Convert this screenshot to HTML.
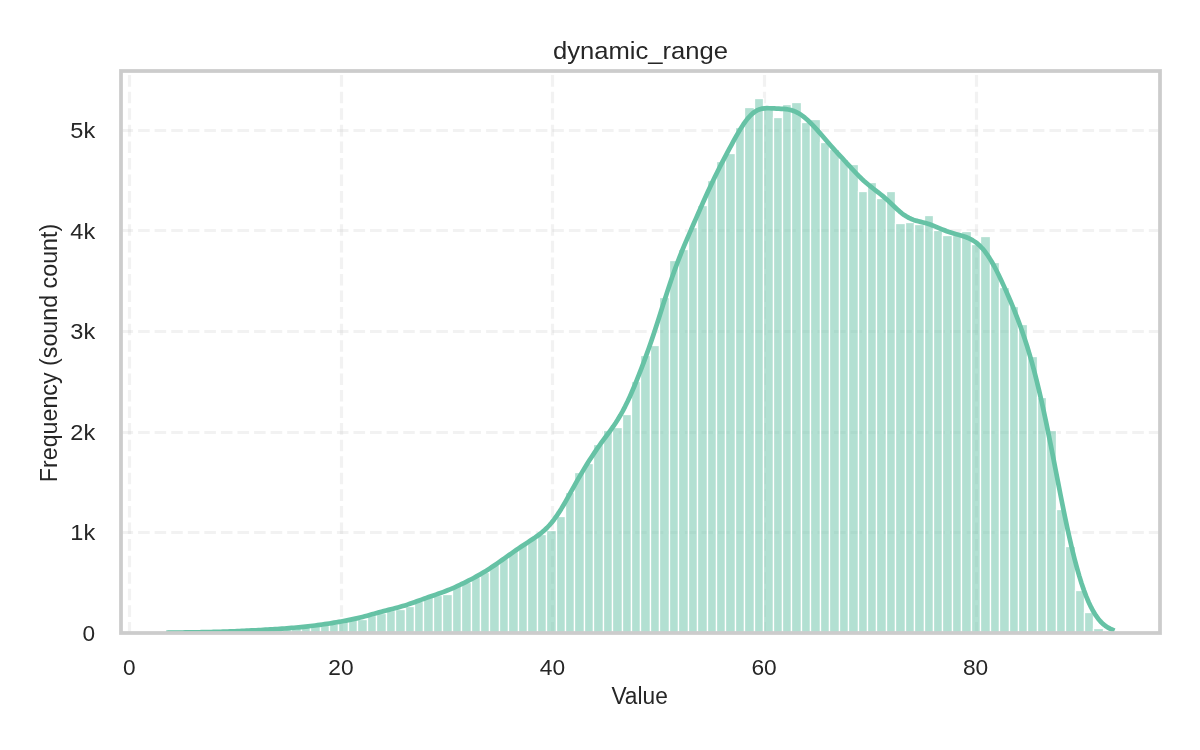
<!DOCTYPE html>
<html><head><meta charset="utf-8"><style>
html,body{margin:0;padding:0;background:#fff;}
svg{display:block;will-change:transform;}
text{font-family:"Liberation Sans", sans-serif;fill:#262626;}
</style></head><body>
<svg width="1200" height="750" viewBox="0 0 1200 750">
<defs><clipPath id="ax"><rect x="121.0" y="71.0" width="1039.0" height="562.0"/></clipPath></defs>
<rect width="1200" height="750" fill="#fff"/>
<g clip-path="url(#ax)">
<g stroke="#cccccc" stroke-opacity="0.26" stroke-width="3.126" stroke-dasharray="11.57 5.0" fill="none">
<line x1="129.5" y1="633.5" x2="129.5" y2="71.5"/>
<line x1="341.5" y1="633.5" x2="341.5" y2="71.5"/>
<line x1="552.5" y1="633.5" x2="552.5" y2="71.5"/>
<line x1="764.5" y1="633.5" x2="764.5" y2="71.5"/>
<line x1="976.5" y1="633.5" x2="976.5" y2="71.5"/>
<line x1="121.5" y1="633.5" x2="1159.5" y2="633.5"/>
<line x1="121.5" y1="532.5" x2="1159.5" y2="532.5"/>
<line x1="121.5" y1="432.5" x2="1159.5" y2="432.5"/>
<line x1="121.5" y1="331.5" x2="1159.5" y2="331.5"/>
<line x1="121.5" y1="230.5" x2="1159.5" y2="230.5"/>
<line x1="121.5" y1="130.5" x2="1159.5" y2="130.5"/>
</g>
<g fill="#66c2a5" fill-opacity="0.5" stroke="#fff" stroke-width="1.3">
<rect x="169.5" y="633.5" width="9.0" height="0.0"/>
<rect x="178.5" y="632.5" width="9.0" height="1.0"/>
<rect x="187.5" y="632.5" width="10.0" height="1.0"/>
<rect x="197.5" y="632.5" width="9.0" height="1.0"/>
<rect x="206.5" y="632.5" width="10.0" height="1.0"/>
<rect x="216.5" y="632.5" width="9.0" height="1.0"/>
<rect x="225.5" y="632.5" width="10.0" height="1.0"/>
<rect x="235.5" y="631.5" width="9.0" height="2.0"/>
<rect x="244.5" y="631.5" width="9.0" height="2.0"/>
<rect x="253.5" y="630.5" width="10.0" height="3.0"/>
<rect x="263.5" y="630.5" width="9.0" height="3.0"/>
<rect x="272.5" y="629.5" width="10.0" height="4.0"/>
<rect x="282.5" y="629.5" width="9.0" height="4.0"/>
<rect x="291.5" y="628.5" width="10.0" height="5.0"/>
<rect x="301.5" y="627.5" width="9.0" height="6.0"/>
<rect x="310.5" y="626.5" width="10.0" height="7.0"/>
<rect x="320.5" y="625.5" width="9.0" height="8.0"/>
<rect x="329.5" y="623.5" width="9.0" height="10.0"/>
<rect x="338.5" y="621.5" width="10.0" height="12.0"/>
<rect x="348.5" y="619.5" width="9.0" height="14.0"/>
<rect x="357.5" y="619.5" width="10.0" height="14.0"/>
<rect x="367.5" y="615.5" width="9.0" height="18.0"/>
<rect x="376.5" y="613.5" width="10.0" height="20.0"/>
<rect x="386.5" y="610.5" width="9.0" height="23.0"/>
<rect x="395.5" y="609.5" width="10.0" height="24.0"/>
<rect x="405.5" y="606.5" width="9.0" height="27.0"/>
<rect x="414.5" y="601.5" width="9.0" height="32.0"/>
<rect x="423.5" y="597.5" width="10.0" height="36.0"/>
<rect x="433.5" y="595.5" width="9.0" height="38.0"/>
<rect x="442.5" y="594.5" width="10.0" height="39.0"/>
<rect x="452.5" y="586.5" width="9.0" height="47.0"/>
<rect x="461.5" y="582.5" width="10.0" height="51.0"/>
<rect x="471.5" y="577.5" width="9.0" height="56.0"/>
<rect x="480.5" y="572.5" width="9.0" height="61.0"/>
<rect x="489.5" y="564.5" width="10.0" height="69.0"/>
<rect x="499.5" y="558.5" width="9.0" height="75.0"/>
<rect x="508.5" y="551.5" width="10.0" height="82.0"/>
<rect x="518.5" y="544.5" width="9.0" height="89.0"/>
<rect x="527.5" y="538.5" width="10.0" height="95.0"/>
<rect x="537.5" y="534.5" width="9.0" height="99.0"/>
<rect x="546.5" y="530.5" width="10.0" height="103.0"/>
<rect x="556.5" y="516.5" width="9.0" height="117.0"/>
<rect x="565.5" y="492.5" width="9.0" height="141.0"/>
<rect x="574.5" y="472.5" width="10.0" height="161.0"/>
<rect x="584.5" y="463.5" width="9.0" height="170.0"/>
<rect x="593.5" y="444.5" width="10.0" height="189.0"/>
<rect x="603.5" y="430.5" width="9.0" height="203.0"/>
<rect x="612.5" y="427.5" width="10.0" height="206.0"/>
<rect x="622.5" y="414.5" width="9.0" height="219.0"/>
<rect x="631.5" y="381.5" width="9.0" height="252.0"/>
<rect x="640.5" y="355.5" width="10.0" height="278.0"/>
<rect x="650.5" y="345.5" width="9.0" height="288.0"/>
<rect x="659.5" y="297.5" width="10.0" height="336.0"/>
<rect x="669.5" y="260.5" width="9.0" height="373.0"/>
<rect x="678.5" y="249.5" width="10.0" height="384.0"/>
<rect x="688.5" y="227.5" width="9.0" height="406.0"/>
<rect x="697.5" y="205.5" width="10.0" height="428.0"/>
<rect x="707.5" y="180.5" width="9.0" height="453.0"/>
<rect x="716.5" y="161.5" width="9.0" height="472.0"/>
<rect x="725.5" y="153.5" width="10.0" height="480.0"/>
<rect x="735.5" y="127.5" width="9.0" height="506.0"/>
<rect x="744.5" y="107.5" width="10.0" height="526.0"/>
<rect x="754.5" y="98.5" width="9.0" height="535.0"/>
<rect x="763.5" y="108.5" width="10.0" height="525.0"/>
<rect x="773.5" y="117.5" width="9.0" height="516.0"/>
<rect x="782.5" y="104.5" width="9.0" height="529.0"/>
<rect x="791.5" y="102.5" width="10.0" height="531.0"/>
<rect x="801.5" y="122.5" width="9.0" height="511.0"/>
<rect x="810.5" y="119.5" width="10.0" height="514.0"/>
<rect x="820.5" y="142.5" width="9.0" height="491.0"/>
<rect x="829.5" y="149.5" width="10.0" height="484.0"/>
<rect x="839.5" y="159.5" width="9.0" height="474.0"/>
<rect x="848.5" y="164.5" width="10.0" height="469.0"/>
<rect x="858.5" y="191.5" width="9.0" height="442.0"/>
<rect x="867.5" y="182.5" width="9.0" height="451.0"/>
<rect x="876.5" y="198.5" width="10.0" height="435.0"/>
<rect x="886.5" y="191.5" width="9.0" height="442.0"/>
<rect x="895.5" y="223.5" width="10.0" height="410.0"/>
<rect x="905.5" y="222.5" width="9.0" height="411.0"/>
<rect x="914.5" y="224.5" width="10.0" height="409.0"/>
<rect x="924.5" y="215.5" width="9.0" height="418.0"/>
<rect x="933.5" y="230.5" width="9.0" height="403.0"/>
<rect x="942.5" y="235.5" width="10.0" height="398.0"/>
<rect x="952.5" y="235.5" width="9.0" height="398.0"/>
<rect x="961.5" y="231.5" width="10.0" height="402.0"/>
<rect x="971.5" y="244.5" width="9.0" height="389.0"/>
<rect x="980.5" y="236.5" width="10.0" height="397.0"/>
<rect x="990.5" y="262.5" width="9.0" height="371.0"/>
<rect x="999.5" y="287.5" width="10.0" height="346.0"/>
<rect x="1009.5" y="306.5" width="9.0" height="327.0"/>
<rect x="1018.5" y="324.5" width="9.0" height="309.0"/>
<rect x="1027.5" y="356.5" width="10.0" height="277.0"/>
<rect x="1037.5" y="397.5" width="9.0" height="236.0"/>
<rect x="1046.5" y="430.5" width="10.0" height="203.0"/>
<rect x="1056.5" y="509.5" width="9.0" height="124.0"/>
<rect x="1065.5" y="546.5" width="10.0" height="87.0"/>
<rect x="1075.5" y="590.5" width="9.0" height="43.0"/>
<rect x="1084.5" y="612.5" width="9.0" height="21.0"/>
<rect x="1093.5" y="628.5" width="10.0" height="5.0"/>
<rect x="1103.5" y="631.5" width="9.0" height="2.0"/>
</g>
<path d="M168.55,632.70 L170.92,632.67 L173.28,632.64 L175.65,632.60 L178.01,632.57 L180.38,632.53 L182.74,632.50 L185.11,632.46 L187.47,632.43 L189.84,632.39 L192.20,632.36 L194.57,632.32 L196.93,632.28 L199.30,632.24 L201.67,632.20 L204.03,632.15 L206.40,632.10 L208.76,632.05 L211.13,631.99 L213.49,631.93 L215.86,631.87 L218.22,631.81 L220.59,631.74 L222.95,631.66 L225.32,631.58 L227.69,631.50 L230.05,631.42 L232.42,631.33 L234.78,631.23 L237.15,631.13 L239.51,631.03 L241.88,630.93 L244.24,630.82 L246.61,630.70 L248.97,630.59 L251.34,630.47 L253.70,630.35 L256.07,630.23 L258.44,630.10 L260.80,629.98 L263.17,629.85 L265.53,629.71 L267.90,629.58 L270.26,629.44 L272.63,629.30 L274.99,629.15 L277.36,629.00 L279.72,628.84 L282.09,628.68 L284.46,628.51 L286.82,628.33 L289.19,628.15 L291.55,627.95 L293.92,627.75 L296.28,627.53 L298.65,627.31 L301.01,627.08 L303.38,626.83 L305.74,626.58 L308.11,626.32 L310.47,626.04 L312.84,625.76 L315.21,625.47 L317.57,625.16 L319.94,624.85 L322.30,624.52 L324.67,624.18 L327.03,623.82 L329.40,623.46 L331.76,623.08 L334.13,622.69 L336.49,622.29 L338.86,621.89 L341.23,621.47 L343.59,621.04 L345.96,620.60 L348.32,620.14 L350.69,619.67 L353.05,619.17 L355.42,618.65 L357.78,618.11 L360.15,617.54 L362.51,616.94 L364.88,616.32 L367.24,615.68 L369.61,615.02 L371.98,614.36 L374.34,613.69 L376.71,613.03 L379.07,612.37 L381.44,611.74 L383.80,611.11 L386.17,610.50 L388.53,609.90 L390.90,609.30 L393.26,608.70 L395.63,608.09 L398.00,607.46 L400.36,606.80 L402.73,606.11 L405.09,605.39 L407.46,604.63 L409.82,603.84 L412.19,603.02 L414.55,602.18 L416.92,601.32 L419.28,600.46 L421.65,599.60 L424.01,598.74 L426.38,597.90 L428.75,597.07 L431.11,596.24 L433.48,595.43 L435.84,594.62 L438.21,593.80 L440.57,592.97 L442.94,592.11 L445.30,591.22 L447.67,590.30 L450.03,589.34 L452.40,588.34 L454.77,587.30 L457.13,586.23 L459.50,585.13 L461.86,583.99 L464.23,582.84 L466.59,581.66 L468.96,580.45 L471.32,579.23 L473.69,577.97 L476.05,576.68 L478.42,575.36 L480.78,574.00 L483.15,572.59 L485.52,571.15 L487.88,569.66 L490.25,568.12 L492.61,566.56 L494.98,564.95 L497.34,563.32 L499.71,561.67 L502.07,560.01 L504.44,558.33 L506.80,556.66 L509.17,554.98 L511.53,553.31 L513.90,551.66 L516.27,550.02 L518.63,548.40 L521.00,546.80 L523.36,545.22 L525.73,543.67 L528.09,542.12 L530.46,540.58 L532.82,539.01 L535.19,537.42 L537.55,535.75 L539.92,533.99 L542.29,532.09 L544.65,530.03 L547.02,527.76 L549.38,525.26 L551.75,522.50 L554.11,519.48 L556.48,516.20 L558.84,512.66 L561.21,508.89 L563.57,504.94 L565.94,500.84 L568.30,496.63 L570.67,492.38 L573.04,488.11 L575.40,483.87 L577.77,479.69 L580.13,475.59 L582.50,471.57 L584.86,467.64 L587.23,463.80 L589.59,460.06 L591.96,456.41 L594.32,452.86 L596.69,449.39 L599.06,446.01 L601.42,442.70 L603.79,439.46 L606.15,436.25 L608.52,433.05 L610.88,429.80 L613.25,426.45 L615.61,422.95 L617.98,419.25 L620.34,415.30 L622.71,411.07 L625.07,406.55 L627.44,401.74 L629.81,396.64 L632.17,391.29 L634.54,385.71 L636.90,379.93 L639.27,373.97 L641.63,367.85 L644.00,361.56 L646.36,355.11 L648.73,348.48 L651.09,341.66 L653.46,334.66 L655.83,327.49 L658.19,320.17 L660.56,312.76 L662.92,305.32 L665.29,297.91 L667.65,290.61 L670.02,283.48 L672.38,276.57 L674.75,269.91 L677.11,263.51 L679.48,257.36 L681.84,251.44 L684.21,245.70 L686.58,240.10 L688.94,234.60 L691.31,229.16 L693.67,223.75 L696.04,218.36 L698.40,212.98 L700.77,207.62 L703.13,202.28 L705.50,197.00 L707.86,191.79 L710.23,186.68 L712.60,181.66 L714.96,176.76 L717.33,171.96 L719.69,167.26 L722.06,162.65 L724.42,158.11 L726.79,153.62 L729.15,149.18 L731.52,144.78 L733.88,140.44 L736.25,136.20 L738.61,132.09 L740.98,128.16 L743.35,124.47 L745.71,121.09 L748.08,118.07 L750.44,115.45 L752.81,113.25 L755.17,111.50 L757.54,110.17 L759.90,109.23 L762.27,108.64 L764.63,108.32 L767.00,108.21 L769.37,108.24 L771.73,108.34 L774.10,108.46 L776.46,108.59 L778.83,108.70 L781.19,108.81 L783.56,108.95 L785.92,109.16 L788.29,109.49 L790.65,109.99 L793.02,110.69 L795.38,111.62 L797.75,112.78 L800.12,114.19 L802.48,115.84 L804.85,117.69 L807.21,119.74 L809.58,121.97 L811.94,124.34 L814.31,126.84 L816.67,129.43 L819.04,132.10 L821.40,134.82 L823.77,137.56 L826.13,140.30 L828.50,143.02 L830.87,145.70 L833.23,148.35 L835.60,150.96 L837.96,153.55 L840.33,156.12 L842.69,158.68 L845.06,161.26 L847.42,163.84 L849.79,166.42 L852.15,168.98 L854.52,171.52 L856.89,174.00 L859.25,176.41 L861.62,178.72 L863.98,180.92 L866.35,183.00 L868.71,184.99 L871.08,186.89 L873.44,188.73 L875.81,190.54 L878.17,192.37 L880.54,194.25 L882.90,196.19 L885.27,198.22 L887.64,200.34 L890.00,202.53 L892.37,204.77 L894.73,207.02 L897.10,209.22 L899.46,211.32 L901.83,213.27 L904.19,215.03 L906.56,216.57 L908.92,217.89 L911.29,218.99 L913.66,219.89 L916.02,220.64 L918.39,221.28 L920.75,221.87 L923.12,222.46 L925.48,223.08 L927.85,223.77 L930.21,224.55 L932.58,225.42 L934.94,226.35 L937.31,227.34 L939.67,228.35 L942.04,229.34 L944.41,230.30 L946.77,231.20 L949.14,232.03 L951.50,232.79 L953.87,233.50 L956.23,234.16 L958.60,234.81 L960.96,235.49 L963.33,236.21 L965.69,237.03 L968.06,237.96 L970.43,239.06 L972.79,240.36 L975.16,241.89 L977.52,243.70 L979.89,245.81 L982.25,248.27 L984.62,251.09 L986.98,254.29 L989.35,257.85 L991.71,261.76 L994.08,266.00 L996.44,270.52 L998.81,275.28 L1001.18,280.24 L1003.54,285.36 L1005.91,290.62 L1008.27,296.02 L1010.64,301.54 L1013.00,307.22 L1015.37,313.08 L1017.73,319.16 L1020.10,325.50 L1022.46,332.16 L1024.83,339.16 L1027.20,346.57 L1029.56,354.40 L1031.93,362.68 L1034.29,371.43 L1036.66,380.66 L1039.02,390.38 L1041.39,400.57 L1043.75,411.22 L1046.12,422.30 L1048.48,433.76 L1050.85,445.53 L1053.21,457.53 L1055.58,469.67 L1057.95,481.82 L1060.31,493.89 L1062.68,505.75 L1065.04,517.30 L1067.41,528.44 L1069.77,539.11 L1072.14,549.22 L1074.50,558.74 L1076.87,567.64 L1079.23,575.88 L1081.60,583.46 L1083.97,590.37 L1086.33,596.63 L1088.70,602.24 L1091.06,607.22 L1093.43,611.60 L1095.79,615.42 L1098.16,618.70 L1100.52,621.50 L1102.89,623.85 L1105.25,625.80 L1107.62,627.39 L1109.98,628.68 L1112.35,629.71" fill="none" stroke="#66c2a5" stroke-width="4.7" stroke-linejoin="round" stroke-linecap="square"/>
</g>
<rect x="121.0" y="71.0" width="1039.0" height="562.0" fill="none" stroke="#cccccc" stroke-width="3.75"/>
<g font-size="22.1">
<text x="95" y="640.5" text-anchor="end" textLength="12.6" lengthAdjust="spacingAndGlyphs">0</text>
<text x="95.2" y="540.2" text-anchor="end" textLength="24.9" lengthAdjust="spacingAndGlyphs">1k</text>
<text x="95.2" y="439.7" text-anchor="end" textLength="24.9" lengthAdjust="spacingAndGlyphs">2k</text>
<text x="95.2" y="339.2" text-anchor="end" textLength="24.9" lengthAdjust="spacingAndGlyphs">3k</text>
<text x="95.2" y="238.7" text-anchor="end" textLength="24.9" lengthAdjust="spacingAndGlyphs">4k</text>
<text x="95.2" y="138.2" text-anchor="end" textLength="24.9" lengthAdjust="spacingAndGlyphs">5k</text>
<text x="129.4" y="674.8" text-anchor="middle" textLength="12.6" lengthAdjust="spacingAndGlyphs">0</text>
<text x="341.0" y="674.8" text-anchor="middle" textLength="25.3" lengthAdjust="spacingAndGlyphs">20</text>
<text x="552.5" y="674.8" text-anchor="middle" textLength="25.3" lengthAdjust="spacingAndGlyphs">40</text>
<text x="764.1" y="674.8" text-anchor="middle" textLength="25.3" lengthAdjust="spacingAndGlyphs">60</text>
<text x="975.6" y="674.8" text-anchor="middle" textLength="25.3" lengthAdjust="spacingAndGlyphs">80</text>
<text x="639.6" y="704" font-size="23.1" text-anchor="middle" textLength="56.4" lengthAdjust="spacingAndGlyphs">Value</text>
<text transform="translate(56.8,353) rotate(-90)" x="0" y="0" font-size="23.1" text-anchor="middle" textLength="258.5" lengthAdjust="spacingAndGlyphs">Frequency (sound count)</text>
</g>
<text x="640.5" y="58.75" text-anchor="middle" font-size="24.4" textLength="175.1" lengthAdjust="spacingAndGlyphs">dynamic_range</text>
</svg>
</body></html>
